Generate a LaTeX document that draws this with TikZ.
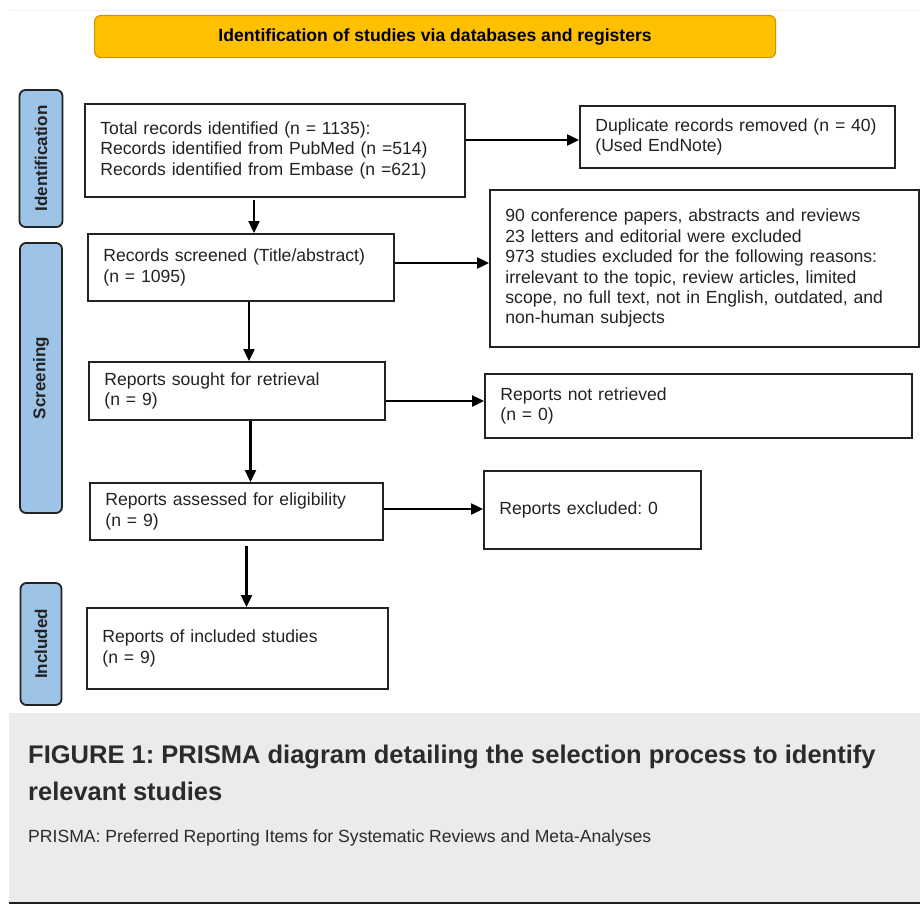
\documentclass[tikz,border=0pt]{standalone}
\usepackage{fontspec}
\setmainfont{Liberation Sans}
\usetikzlibrary{arrows.meta}
\frenchspacing
\definecolor{bannerfill}{HTML}{FFC000}
\definecolor{bannerdraw}{HTML}{C99A00}
\definecolor{barfill}{HTML}{9DC3E6}
\definecolor{inkdark}{HTML}{222222}
\definecolor{capgray}{HTML}{EBEBEB}
\definecolor{captext}{HTML}{2B2B2B}
\definecolor{rulegray}{HTML}{F2F2F2}
\tikzset{
  flowbox/.style={draw=inkdark, line width=1.8pt, rectangle, anchor=north west,
    inner xsep=15.5pt, inner ysep=0pt, align=left, text=inkdark,
    font=\fontsize{17.6}{20.4}\selectfont\frenchspacing},
  sidebar/.style={draw=inkdark, line width=1.8pt, fill=barfill, rounded corners=6pt,
    rotate=90, inner sep=0pt, font=\bfseries\fontsize{17}{20}\selectfont, text=inkdark},
  arr/.style={draw=black, line width=2.4pt, -{Triangle[length=12pt,width=11pt]}},
}
\newcommand{\flowbox}[6]{% name, x, y, w, h, text
  \node[flowbox, text width=#4pt-31pt, minimum width=#4pt, minimum height=#5pt] (#1) at (#2,#3) {#6};}
\begin{document}
\begin{tikzpicture}[x=1pt, y=-1pt]
\useasboundingbox (0,0) rectangle (920,904);
% faint top rule
\draw[rulegray, line width=1pt] (9,10.5) -- (920,10.5);
% banner
\node[draw=bannerdraw, fill=bannerfill, line width=1.2pt, rounded corners=6pt, anchor=north west,
  minimum width=681pt, minimum height=42pt, inner sep=0pt,
  font=\bfseries\fontsize{17.6}{20}\selectfont, text=black] (banner) at (94,15)
  {Identification of studies via databases and registers};
% side bars
\node[sidebar, minimum width=137pt, minimum height=43pt] (idbar) at (41,158.5) {Identification};
\node[sidebar, minimum width=270pt, minimum height=42pt] (scbar) at (41,378) {Screening};
\node[sidebar, minimum width=122pt, minimum height=41pt] (inbar) at (41,644) {Included};
% boxes
\flowbox{total}{84}{103}{380}{93}{Total records identified (n = 1135):\\Records identified from PubMed (n =514)\\Records identified from Embase (n =621)}
\flowbox{dup}{579}{105}{315}{62}{Duplicate records removed (n = 40)\\(Used EndNote)}
\flowbox{screen}{87}{233}{306}{67}{Records screened (Title/abstract)\\(n = 1095)}
\flowbox{excl}{489}{189}{429}{157}{90 conference papers, abstracts and reviews\\23 letters and editorial were excluded\\973 studies excluded for the following reasons:\\irrelevant to the topic, review articles, limited\\scope, no full text, not in English, outdated, and\\non-human subjects}
\flowbox{sought}{88}{361}{296}{58}{Reports sought for retrieval\\(n = 9)}
\flowbox{notret}{484}{373}{427}{64}{Reports not retrieved\\(n = 0)}
\flowbox{assess}{89}{482}{293}{57}{Reports assessed for eligibility\\(n = 9)}
\flowbox{repexcl}{483}{470}{217}{78}{Reports excluded: 0}
\flowbox{incl}{86}{607}{301}{81}{Reports of included studies\\(n = 9)}
% connectors
\draw[arr] (total.east |- 0,140) -- (dup.west |- 0,140);
\draw[arr] (total.south -| 254,0) ++(0,2) -- (screen.north -| 254,0);
\draw[arr] (screen.east |- 0,263) -- (excl.west |- 0,263);
\draw[arr] (screen.south -| 249,0) -- (sought.north -| 249,0);
\draw[arr] (sought.east |- 0,401) -- (notret.west |- 0,401);
\draw[arr] (sought.south -| 250.5,0) -- (assess.north -| 250.5,0);
\draw[arr] (assess.east |- 0,509) -- (repexcl.west |- 0,509);
\draw[arr] (assess.south -| 246.5,0) ++(0,5) -- (incl.north -| 246.5,0);
% caption panel
\fill[capgray] (9,713) rectangle (920,901.5);
\fill[black!88] (9,901.5) rectangle (920,904);
\node[anchor=base west, inner sep=0pt, text=captext, font=\bfseries\fontsize{25.5}{37}\selectfont\frenchspacing] (cap1) at (28,763)
  {FIGURE 1: PRISMA diagram detailing the selection process to identify};
\node[anchor=base west, inner sep=0pt, text=captext, font=\bfseries\fontsize{25.5}{37}\selectfont] (cap2) at (28,800)
  {relevant studies};
\node[anchor=base west, inner sep=0pt, text=captext, font=\fontsize{17.6}{20}\selectfont\frenchspacing] (cap3) at (28,842)
  {PRISMA: Preferred Reporting Items for Systematic Reviews and Meta-Analyses};
\end{tikzpicture}
\end{document}
